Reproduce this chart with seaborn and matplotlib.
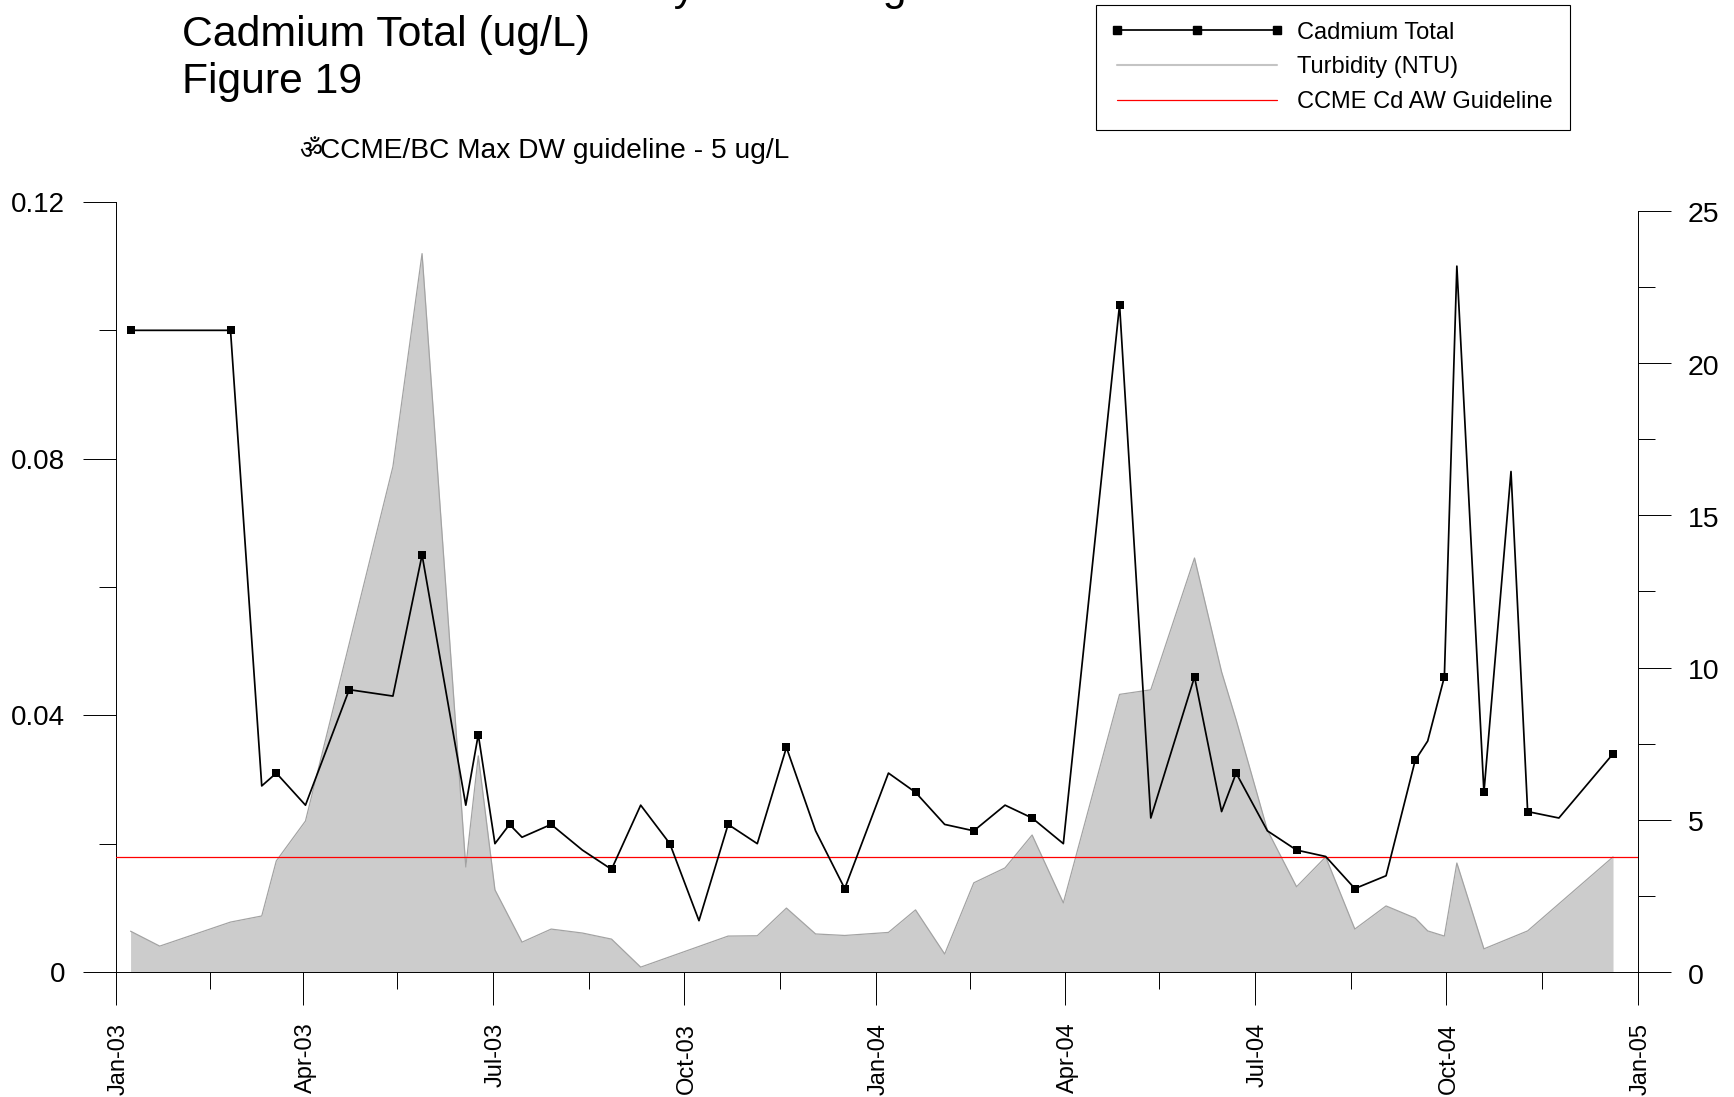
import matplotlib
matplotlib.use("Agg")
import matplotlib.pyplot as plt
import matplotlib.dates as mdates
import matplotlib.transforms as mtrans
from matplotlib.lines import Line2D
from matplotlib.patches import Rectangle
import pandas as pd
import seaborn as sns

cd_dates = ["2003-01-08","2003-02-25","2003-03-12","2003-03-19","2003-04-02","2003-04-23","2003-05-14","2003-05-28",
            "2003-06-18","2003-06-24","2003-07-02","2003-07-09","2003-07-15","2003-07-29","2003-08-13","2003-08-27",
            "2003-09-10","2003-09-24","2003-10-08","2003-10-22","2003-11-05","2003-11-19","2003-12-03","2003-12-17",
            "2004-01-07","2004-01-20","2004-02-03","2004-02-17","2004-03-03","2004-03-16","2004-03-31","2004-04-27",
            "2004-05-12","2004-06-02","2004-06-15","2004-06-22","2004-07-07","2004-07-21","2004-08-04","2004-08-18",
            "2004-09-02","2004-09-16","2004-09-22","2004-09-30","2004-10-06","2004-10-19","2004-11-01","2004-11-09",
            "2004-11-24","2004-12-20"]
cd_values = [0.100,0.100,0.029,0.031,0.026,0.044,0.043,0.065,0.026,0.037,0.020,0.023,0.021,0.023,0.019,0.016,
             0.026,0.020,0.008,0.023,0.020,0.035,0.022,0.013,0.031,0.028,0.023,0.022,0.026,0.024,0.020,0.104,
             0.024,0.046,0.025,0.031,0.022,0.019,0.018,0.013,0.015,0.033,0.036,0.046,0.110,0.028,0.078,0.025,
             0.024,0.034]
cd_marked_dates = ["2003-01-08","2003-02-25","2003-03-19","2003-04-23","2003-05-28","2003-06-24","2003-07-09",
                   "2003-07-29","2003-08-27","2003-09-24","2003-10-22","2003-11-19","2003-12-17","2004-01-20",
                   "2004-02-17","2004-03-16","2004-04-27","2004-06-02","2004-06-22","2004-07-21","2004-08-18",
                   "2004-09-16","2004-09-30","2004-10-19","2004-11-09","2004-12-20"]

turb_dates = ["2003-01-08","2003-01-22","2003-02-25","2003-03-12","2003-03-19","2003-04-02","2003-05-14","2003-05-28",
              "2003-06-18","2003-06-24","2003-07-02","2003-07-15","2003-07-29","2003-08-13","2003-08-27","2003-09-10",
              "2003-10-22","2003-11-05","2003-11-19","2003-12-03","2003-12-17","2004-01-07","2004-01-20","2004-02-03",
              "2004-02-17","2004-03-03","2004-03-16","2004-03-31","2004-04-27","2004-05-12","2004-06-02","2004-06-15",
              "2004-06-22","2004-07-07","2004-07-21","2004-08-04","2004-08-18","2004-09-02","2004-09-16","2004-09-22",
              "2004-09-30","2004-10-06","2004-10-19","2004-11-09","2004-12-20"]
turb_values = [1.34,0.85,1.64,1.84,3.65,4.96,16.6,23.6,3.45,7.1,2.7,0.98,1.41,1.28,1.08,0.16,1.18,1.19,2.1,1.25,1.2,
               1.3,2.04,0.59,2.93,3.42,4.5,2.27,9.12,9.27,13.6,9.86,8.28,4.66,2.8,3.78,1.41,2.17,1.77,1.35,1.18,3.58,
               0.76,1.35,3.78]
guideline = 0.018

major_dates = ["2003-01-01","2003-04-01","2003-07-01","2003-10-01","2004-01-01","2004-04-01","2004-07-01",
               "2004-10-01","2005-01-01"]
major_labels = ["Jan-03","Apr-03","Jul-03","Oct-03","Jan-04","Apr-04","Jul-04","Oct-04","Jan-05"]
minor_dates = ["2003-02-15","2003-05-16","2003-08-16","2003-11-16","2004-02-15","2004-05-16","2004-08-16","2004-11-16"]
left_major = [0, 0.04, 0.08, 0.12]
left_labels = ["0", "0.04", "0.08", "0.12"]
left_minor = [0.02, 0.06, 0.10]
right_major = [0, 5, 10, 15, 20, 25]
right_minor = [2.5, 7.5, 12.5, 17.5, 22.5]

sns.set_theme(style="white")
plt.rcParams["font.family"] = ["Liberation Sans", "Noto Sans", "DejaVu Sans"]

W, H = 1734, 1097
fig = plt.figure(figsize=(W / 100, H / 100), dpi=100, facecolor="white")
rect = [116 / W, 1 - 972 / H, (1638 - 116) / W, (972 - 202) / H]
ax2 = fig.add_axes(rect, zorder=1)
ax = fig.add_axes(rect, zorder=2)
ax.patch.set_visible(False)

cd = pd.DataFrame({"date": pd.to_datetime(cd_dates), "cd": cd_values})
turb = pd.DataFrame({"date": pd.to_datetime(turb_dates), "turb": turb_values})
marked = cd[cd["date"].isin(pd.to_datetime(cd_marked_dates))]

xlim = (pd.Timestamp(major_dates[0]), pd.Timestamp(major_dates[-1]))

sns.lineplot(data=turb, x="date", y="turb", ax=ax2, color="#a3a3a3", lw=0.9, estimator=None, sort=False)
ax2.fill_between(turb["date"], 0, turb["turb"], color="#cccccc", lw=0)

sns.lineplot(data=cd, x="date", y="cd", ax=ax, color="black", lw=1.25, estimator=None, sort=False, zorder=4)
sns.scatterplot(data=marked, x="date", y="cd", ax=ax, color="black", marker="s", s=30, linewidth=0, zorder=5)
ax.axhline(guideline, color="#ff0000", lw=0.9, zorder=3)

ax.set_xlim(xlim)
ax2.set_xlim(xlim)
ax.set_ylim(0, 0.12)
ax2.set_ylim(0, 770 / 30.44)
ax.set_xlabel("")
ax.set_ylabel("")
ax2.set_xlabel("")
ax2.set_ylabel("")

# left axis and dates
ax.set_xticks(mdates.date2num(pd.to_datetime(major_dates)))
ax.set_xticklabels(major_labels, rotation=90, fontsize=17)
ax.set_xticks(mdates.date2num(pd.to_datetime(minor_dates)), minor=True)
ax.set_yticks(left_major)
ax.set_yticklabels(left_labels, fontsize=20)
ax.set_yticks(left_minor, minor=True)
ax.tick_params(axis="x", which="major", length=24, width=0.7, color="black", pad=12.5, labelcolor="black", bottom=True)
ax.tick_params(axis="x", which="minor", length=12, width=0.7, color="black", bottom=True)
ax.tick_params(axis="y", which="major", length=24, width=0.7, color="black", pad=12.5, labelcolor="black", left=True)
ax.tick_params(axis="y", which="minor", length=12, width=0.7, color="black", left=True)
shift_x = mtrans.ScaledTranslation(2.5 / 100, 0, fig.dpi_scale_trans)
for lab in ax.get_xticklabels():
    lab.set_transform(lab.get_transform() + shift_x)

# right axis
ax2.xaxis.set_visible(False)
ax2.yaxis.tick_right()
ax2.set_yticks(right_major)
ax2.set_yticklabels([str(v) for v in right_major], fontsize=20.5)
ax2.set_yticks(right_minor, minor=True)
ax2.tick_params(axis="y", which="major", length=24, width=0.7, color="black", pad=12, labelcolor="black", right=True)
ax2.tick_params(axis="y", which="minor", length=12, width=0.7, color="black", right=True)
shift_y = mtrans.ScaledTranslation(0, -1.5 / 100, fig.dpi_scale_trans)
for lab in ax2.get_yticklabels():
    lab.set_transform(lab.get_transform() + shift_y)

for s in ["top", "right"]:
    ax.spines[s].set_visible(False)
for s in ["top", "left", "bottom"]:
    ax2.spines[s].set_visible(False)
for s in ["left", "bottom"]:
    ax.spines[s].set_color("black")
    ax.spines[s].set_linewidth(0.7)
ax2.spines["right"].set_color("black")
ax2.spines["right"].set_linewidth(0.7)
ax2.spines["right"].set_bounds(0, 25)

# titles
fig.text(906 / W, 1 - 0 / H, "Tributary Monitoring", fontsize=30.8, ha="right", va="baseline", color="black")
fig.text(182 / W, 1 - 46 / H, "Cadmium Total (ug/L)", fontsize=30.8, ha="left", va="baseline", color="black")
fig.text(182 / W, 1 - 93 / H, "Figure 19", fontsize=30.7, ha="left", va="baseline", color="black")
fig.text(299 / W, 1 - 158 / H, "\u0950", fontsize=18, ha="left", va="baseline", color="black")
fig.text(320.5 / W, 1 - 158 / H, "CCME/BC Max DW guideline - 5 ug/L", fontsize=20.25, ha="left", va="baseline",
         color="black")

# legend box and legend
fig.add_artist(Rectangle((1096 / W, 1 - 130 / H), (1570 - 1096) / W, (130 - 5) / H,
                         transform=fig.transFigure, facecolor="white", edgecolor="black", lw=0.8))
handles = [
    Line2D([], [], color="black", lw=1.25, marker="s", ms=5.5),
    Line2D([], [], color="#c4c4c4", lw=1.5),
    Line2D([], [], color="#ff0000", lw=0.9),
]
leg = fig.legend(handles, ["Cadmium Total", "Turbidity (NTU)", "CCME Cd AW Guideline"],
                 loc="upper left", bbox_to_anchor=(1095 / W, 1 - 7 / H), bbox_transform=fig.transFigure,
                 fontsize=17, numpoints=3, handlelength=7.4, handletextpad=0.52, labelspacing=0.54,
                 borderpad=0.62, borderaxespad=0, frameon=False)
for t in leg.get_texts():
    t.set_color("black")

fig.savefig("out.png", dpi=100)
